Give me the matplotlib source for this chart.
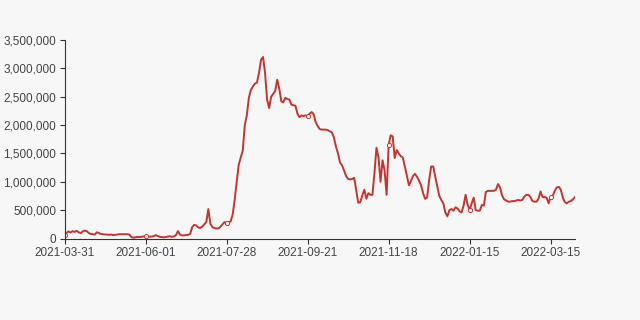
import matplotlib.pyplot as plt
from matplotlib.ticker import FuncFormatter

plt.rcParams['font.family'] = ['Liberation Sans', 'DejaVu Sans']

# daily values (one per trading day, 2021-03-31 onward)
values = [
    60e3, 100e3, 125e3, 105e3, 130e3, 115e3, 135e3, 110e3, 95e3, 125e3,
    140e3, 130e3, 95e3, 80e3, 75e3, 70e3, 110e3, 95e3, 80e3, 75e3,
    70e3, 70e3, 65e3, 70e3, 60e3, 65e3, 70e3, 75e3, 75e3, 75e3,
    75e3, 75e3, 70e3, 25e3, 15e3, 20e3, 30e3, 25e3, 30e3, 35e3,
    45e3, 40e3, 30e3, 35e3, 40e3, 60e3, 45e3, 30e3, 25e3, 20e3,
    25e3, 35e3, 40e3, 30e3, 35e3, 60e3, 130e3, 70e3, 55e3, 55e3,
    60e3, 65e3, 80e3, 200e3, 240e3, 230e3, 195e3, 185e3, 210e3, 250e3,
    290e3, 520e3, 260e3, 200e3, 185e3, 175e3, 180e3, 210e3, 250e3, 290e3,
    270e3, 290e3, 300e3, 420e3, 680e3, 1000e3, 1300e3, 1430e3, 1550e3, 2000e3,
    2170e3, 2480e3, 2620e3, 2680e3, 2730e3, 2750e3, 2920e3, 3150e3, 3200e3, 2920e3,
    2450e3, 2300e3, 2500e3, 2550e3, 2600e3, 2800e3, 2650e3, 2420e3, 2400e3, 2480e3,
    2460e3, 2450e3, 2360e3, 2350e3, 2340e3, 2200e3, 2140e3, 2170e3, 2160e3, 2170e3,
    2160e3, 2200e3, 2230e3, 2190e3, 2050e3, 1980e3, 1930e3, 1920e3, 1920e3, 1920e3,
    1910e3, 1890e3, 1870e3, 1780e3, 1620e3, 1500e3, 1340e3, 1290e3, 1200e3, 1100e3,
    1050e3, 1040e3, 1050e3, 1070e3, 850e3, 630e3, 640e3, 760e3, 860e3, 700e3,
    800e3, 770e3, 770e3, 1150e3, 1600e3, 1430e3, 1000e3, 1380e3, 1200e3, 770e3,
    1650e3, 1820e3, 1800e3, 1420e3, 1560e3, 1500e3, 1450e3, 1430e3, 1270e3, 1110e3,
    940e3, 1010e3, 1100e3, 1140e3, 1090e3, 1020e3, 940e3, 800e3, 700e3, 720e3,
    1030e3, 1270e3, 1270e3, 1090e3, 920e3, 750e3, 680e3, 620e3, 460e3, 390e3,
    500e3, 520e3, 490e3, 550e3, 530e3, 480e3, 460e3, 580e3, 770e3, 600e3,
    500e3, 620e3, 720e3, 500e3, 490e3, 490e3, 590e3, 580e3, 820e3, 840e3,
    840e3, 840e3, 840e3, 860e3, 960e3, 900e3, 760e3, 690e3, 670e3, 650e3,
    650e3, 660e3, 660e3, 670e3, 680e3, 670e3, 680e3, 740e3, 770e3, 770e3,
    730e3, 660e3, 650e3, 650e3, 700e3, 830e3, 730e3, 730e3, 720e3, 620e3,
    740e3, 750e3, 840e3, 900e3, 910e3, 860e3, 720e3, 640e3, 620e3, 650e3,
    660e3, 690e3, 730e3,
]

# category labels shown on the axis (every 40th trading day)
tick_labels = ['2021-03-31', '2021-06-01', '2021-07-28', '2021-09-21',
               '2021-11-18', '2022-01-15', '2022-03-15']
label_step = 40

bg = '#f7f7f7'
line_color = '#c23531'
axis_color = '#333333'

fig = plt.figure(figsize=(6.4, 3.2), dpi=100, facecolor=bg)
ax = fig.add_axes([64.5 / 640, (320 - 238.5) / 320, (575 - 64.5) / 640, (238.5 - 40) / 320])
ax.set_facecolor(bg)

x = list(range(len(values)))
ax.plot(x, values, color=line_color, linewidth=1.4, solid_joinstyle='round')
mark_idx = x[::label_step]
ax.plot(mark_idx, [values[i] for i in mark_idx], linestyle='none', marker='o',
        markersize=3.0, markerfacecolor='white', markeredgecolor=line_color,
        markeredgewidth=0.7)

ax.set_xlim(0, len(values) - 1)
ax.set_ylim(0, 3.5e6)
ax.set_xticks([i * label_step for i in range(len(tick_labels))])
ax.set_xticklabels(tick_labels)
ax.set_yticks([i * 500000 for i in range(8)])
ax.yaxis.set_major_formatter(FuncFormatter(lambda v, p: f'{int(v):,}'))

for s in ['top', 'right']:
    ax.spines[s].set_visible(False)
for s in ['left', 'bottom']:
    ax.spines[s].set_color(axis_color)
    ax.spines[s].set_linewidth(0.8)

ax.tick_params(axis='both', colors=axis_color, labelcolor='#444444',
               labelsize=8.5, length=3.6, width=0.8, pad=2.4)

fig.savefig('out.png', dpi=100, facecolor=bg)
